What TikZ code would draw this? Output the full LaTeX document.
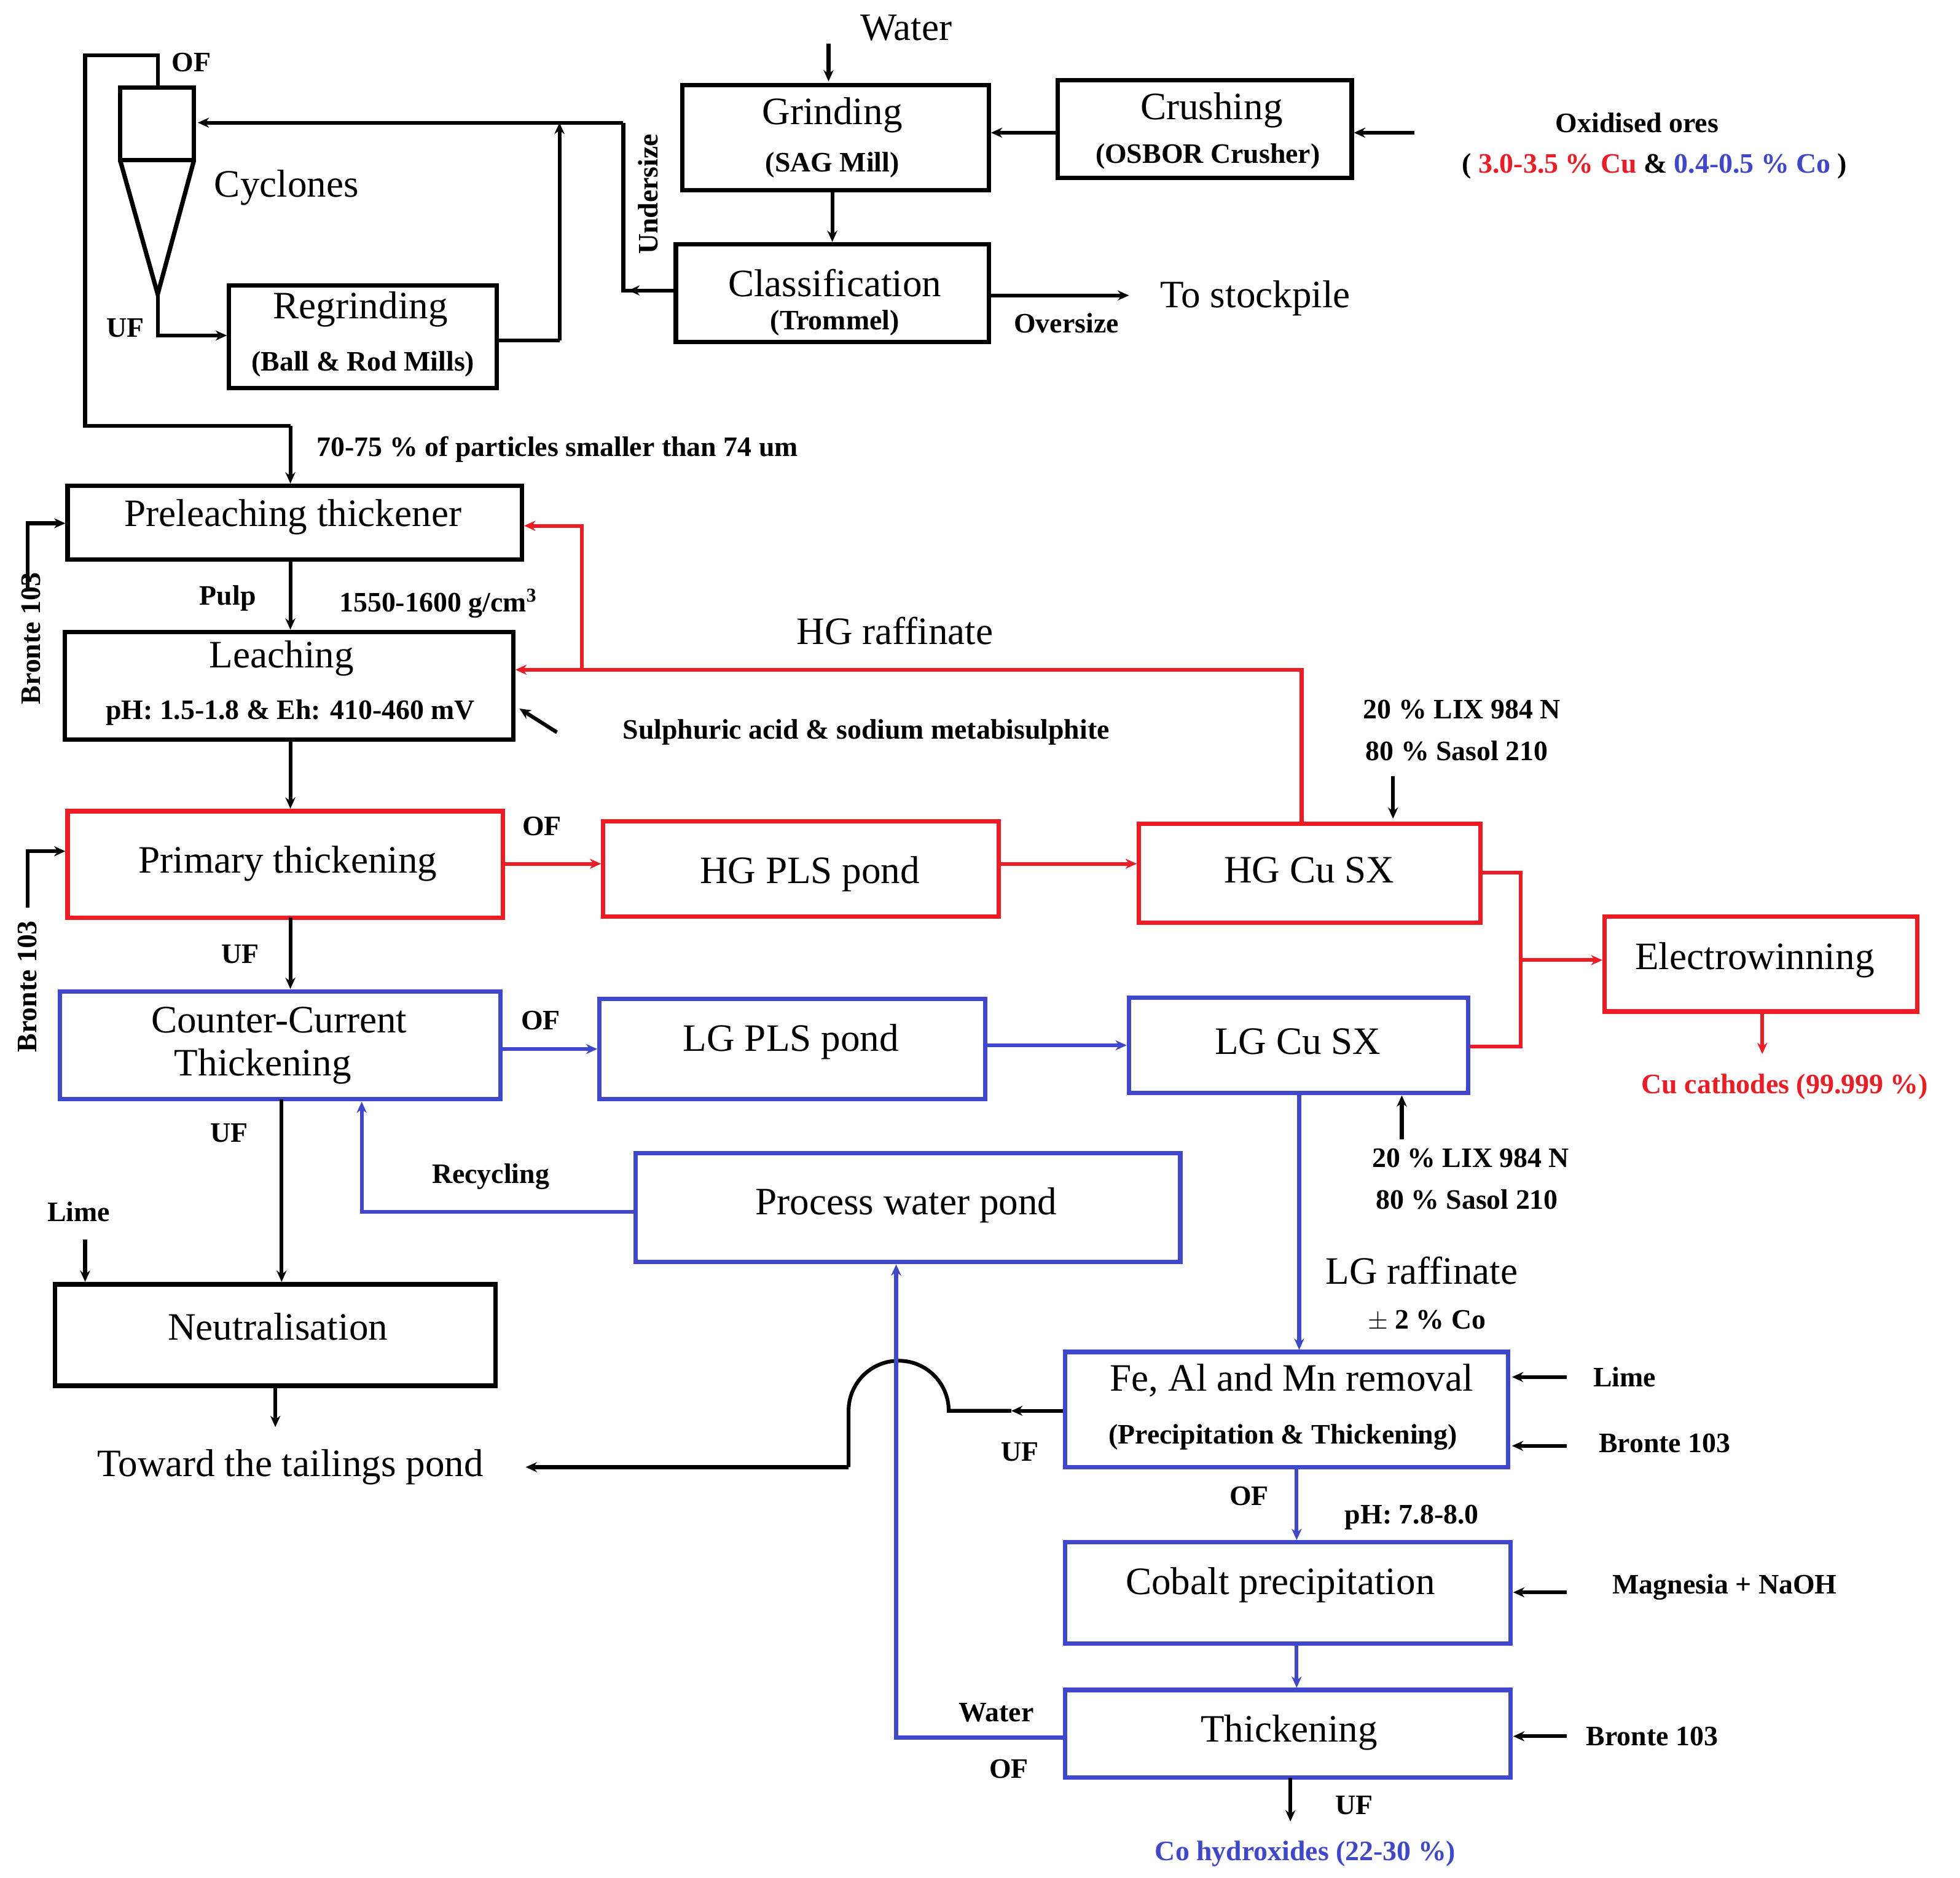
\documentclass[tikz,border=0pt]{standalone}
\usepackage{fontspec}
\setmainfont{Liberation Serif}
\usetikzlibrary{arrows.meta}
\definecolor{rd}{RGB}{237,28,36}
\definecolor{bl}{RGB}{63,72,204}
\begin{document}
\begin{tikzpicture}[x=1pt,y=-1pt,
 bx/.style={draw=#1,line width=3.5pt,inner sep=0pt},
 big/.style={font=\fontsize{31}{34}\selectfont,inner sep=0pt},
 sm/.style={font=\fontsize{22.5}{25}\selectfont\bfseries,inner sep=0pt},
 ln/.style={line width=3pt,draw=#1},
 ar/.style={line width=3pt,draw=#1,-{Stealth[length=9pt,width=8pt]}},
 ln/.default=black, ar/.default=black]
\useasboundingbox (0,0) rectangle (1566,1500);
% boxes
\node[bx=black,minimum width=245pt,minimum height=84pt] (grind) at (667.5,110) {};
\node[bx=black,minimum width=235pt,minimum height=78pt] (crush) at (962.5,103) {};
\node[bx=black,minimum width=250pt,minimum height=78pt] (class) at (665,234) {};
\node[bx=black,minimum width=214pt,minimum height=82pt] (regr) at (290,269) {};
\node[bx=black,minimum width=363pt,minimum height=59pt] (prel) at (235.5,417.5) {};
\node[bx=black,minimum width=358pt,minimum height=86pt] (leach) at (231,548) {};
\node[bx=rd,minimum width=348pt,minimum height=85pt] (prim) at (228,690.5) {};
\node[bx=rd,minimum width=316pt,minimum height=76pt] (hgp) at (640,694) {};
\node[bx=rd,minimum width=273pt,minimum height=79pt] (hgsx) at (1046.5,697.5) {};
\node[bx=rd,minimum width=250pt,minimum height=76pt] (ew) at (1407,770) {};
\node[bx=bl,minimum width=352pt,minimum height=86pt] (cct) at (224,835) {};
\node[bx=bl,minimum width=308pt,minimum height=80pt] (lgp) at (633,838) {};
\node[bx=bl,minimum width=271pt,minimum height=76pt] (lgsx) at (1037.5,835) {};
\node[bx=bl,minimum width=435pt,minimum height=87pt] (pwp) at (725.5,964.5) {};
\node[bx=black,minimum width=352pt,minimum height=81pt] (neut) at (220,1066.5) {};
\node[bx=bl,minimum width=354pt,minimum height=92pt] (fe) at (1028,1126) {};
\node[bx=bl,minimum width=356pt,minimum height=81pt] (cob) at (1029,1272.5) {};
\node[bx=bl,minimum width=356pt,minimum height=70pt] (thk) at (1029,1385) {};
% cyclone
\draw[line width=3.5pt] (96,70) rectangle (155,128);
\draw[line width=3.5pt] (96,128) -- (126,235) -- (155,128);
\coordinate (cyc) at (126,235);
% box texts
\node[big] at (665,92) {Grinding};
\node[sm] at (665,132) {(SAG Mill)};
\node[big] at (968,88) {Crushing};
\node[sm] at (965,125) {(OSBOR Crusher)};
\node[big] at (667,226) {Classification};
\node[sm] at (667,258) {(Trommel)};
\node[big] at (288,247) {Regrinding};
\node[sm] at (290,291) {(Ball \& Rod Mills)};
\node[big] at (234,413) {Preleaching thickener};
\node[big] at (225,526) {Leaching};
\node[sm] at (232,569) {pH: 1.5-1.8 \& Eh: 410-460 mV};
\node[big] at (230,690) {Primary thickening};
\node[big] at (647,698) {HG PLS pond};
\node[big] at (1046,695) {HG Cu SX};
\node[big] at (1402,767) {Electrowinning};
\node[big] at (223,815) {Counter-Current};
\node[big] at (210,852) {Thickening};
\node[big] at (632,832) {LG PLS pond};
\node[big] at (1037,832) {LG Cu SX};
\node[big] at (724,963) {Process water pond};
\node[big] at (222,1060) {Neutralisation};
\node[big] at (1032,1103) {Fe, Al and Mn removal};
\node[sm] at (1025,1148) {(Precipitation \& Thickening)};
\node[big] at (1023,1266) {Cobalt precipitation};
\node[big] at (1030,1384) {Thickening};
% free labels
\node[big] at (724,22) {Water};
\node[sm] at (1308,98) {Oxidised ores};
\node[sm] at (1322,133) {( \textcolor{rd}{3.0-3.5 \% Cu} \& \textcolor{bl}{0.4-0.5 \% Co} )};
\node[sm] at (852,258) {Oversize};
\node[big] at (1003,238) {To stockpile};
\node[sm,rotate=90] at (518,155) {Undersize};
\node[sm] at (153,50) {OF};
\node[sm] at (100,262) {UF};
\node[big] at (229,150) {Cyclones};
\node[sm,anchor=west] at (253,359) {70-75 \% of particles  smaller than 74 um};
\node[sm,rotate=90] at (25,510) {Bronte 103};
\node[sm,rotate=90] at (22,788) {Bronte 103};
\node[sm] at (182,478) {Pulp};
\node[sm] at (350,482) {1550-1600  g/cm$^{\mathbf 3}$};
\node[big] at (715,504) {HG raffinate};
\node[sm] at (692,585) {Sulphuric acid \& sodium metabisulphite};
\node[sm] at (433,660) {OF};
\node[sm] at (1168,567) {20 \% LIX 984 N};
\node[sm] at (1164,600) {80 \% Sasol 210};
\node[sm,text=rd] at (1426,868) {Cu cathodes (99.999 \%)};
\node[sm] at (192,762) {UF};
\node[sm] at (432,815) {OF};
\node[sm] at (1175,925) {20 \% LIX 984 N};
\node[sm] at (1172,958) {80 \% Sasol 210};
\node[big] at (1136,1015) {LG raffinate};
\node[sm] at (1140,1055) {$\pm$ 2 \% Co};
\node[sm] at (183,905) {UF};
\node[sm] at (392,940) {Recycling};
\node[sm] at (63,968) {Lime};
\node[big] (tail) at (232,1172) {Toward the tailings pond};
\node[sm] at (815,1160) {UF};
\node[sm] at (1298,1100) {Lime};
\node[sm] at (1330,1153) {Bronte 103};
\node[sm] at (998,1195) {OF};
\node[sm] at (1128,1212) {pH: 7.8-8.0};
\node[sm] at (1378,1268) {Magnesia + NaOH};
\node[sm] at (1320,1387) {Bronte 103};
\node[sm] at (796,1368) {Water};
\node[sm] at (806,1413) {OF};
\node[sm] at (1082,1442) {UF};
\node[sm,text=bl] at (1043,1481) {Co hydroxides (22-30 \%)};
% free end coordinates
\coordinate (wat) at (662,35);
\coordinate (ore) at (1130,106);
\coordinate (stock) at (902,236);
\coordinate (ew1) at (1408,842);
\coordinate (cooh) at (1031,1455);
\coordinate (neutout) at (220,1140);
% black connectors
\draw[ar] (wat) -- (662,65);
\draw[ar] (ore) -- (crush.east |- ore);
\draw[ar] (crush.west |- 0,106) -- (grind.east |- 0,106);
\draw[ar] (grind.south -| 665,0) -- (class.north -| 665,0);
\draw[ar] (class.east |- stock) -- (stock);
\draw[ln] (class.west |- 0,232) -- (498,232) -- (498,98);
\draw[ar] (498,98) -- (158,98);
\draw[ar] (505,232) -- (502,232);
\draw[ln] (126,70) -- (126,44) -- (68,44) -- (68,340) -- (232,340);
\draw[ar] (232,340) -- (prel.north -| 232,0);
\draw[ar] (cyc) -- (126,268) -- (regr.west |- 0,268);
\draw[ln] (regr.east |- 0,272) -- (447,272);
\draw[ar] (447,272) -- (447,98);
\draw[ar] (22,470) -- (22,418) -- (prel.west |- 0,418);
\draw[ar] (232,447) -- (232,503);
\draw[ar] (445,585) -- (415,566);
\draw[ar] (232,591) -- (232,646);
\draw[ar] (22,725) -- (22,680) -- (prim.west |- 0,680);
\draw[ar] (232,733) -- (232,790);
\draw[ar] (1113,620) -- (1113,654);
\draw[ar] (1120,910) -- (1120,875);
\draw[ar] (225,878) -- (225,1024);
\draw[ar] (68,990) -- (68,1024);
\draw[ar] (neut.south -| 220,0) -- (neutout);
\draw[ar] (fe.west |- 0,1127) -- (808,1127);
\draw[ln] (808,1127) -- (758,1127) arc[start angle=0,end angle=-180,radius=40] -- (678,1172);
\draw[ar] (678,1172) -- (420,1172);
\draw[ar] (1252,1100) -- (1208,1100);
\draw[ar] (1252,1155) -- (1208,1155);
\draw[ar] (1252,1272) -- (1209,1272);
\draw[ar] (1252,1387) -- (1209,1387);
\draw[ar] (1031,1420) -- (cooh);
% red connectors
\draw[ar=rd] (hgsx.north -| 1040,0) -- (1040,535) -- (leach.east |- 0,535);
\draw[ar=rd] (465,535) -- (465,420) -- (prel.east |- 0,420);
\draw[ar=rd] (prim.east |- 0,690) -- (hgp.west |- 0,690);
\draw[ar=rd] (hgp.east |- 0,690) -- (hgsx.west |- 0,690);
\draw[ln=rd] (hgsx.east |- 0,697) -- (1215,697) -- (1215,836) -- (lgsx.east |- 0,836);
\draw[ar=rd] (1215,767) -- (ew.west |- 0,767);
\draw[ar=rd] (1408,808) -- (ew1);
% blue connectors
\draw[ar=bl] (cct.east |- 0,838) -- (lgp.west |- 0,838);
\draw[ar=bl] (lgp.east |- 0,835) -- (lgsx.west |- 0,835);
\draw[ar=bl] (lgsx.south -| 1038,0) -- (fe.north -| 1038,0);
\draw[ar=bl] (pwp.west |- 0,968) -- (289,968) -- (289,880);
\draw[ar=bl] (fe.south -| 1036,0) -- (cob.north -| 1036,0);
\draw[ar=bl] (cob.south -| 1036,0) -- (thk.north -| 1036,0);
\draw[ar=bl] (thk.west |- 0,1388) -- (716,1388) -- (716,1010);
\end{tikzpicture}
\end{document}
